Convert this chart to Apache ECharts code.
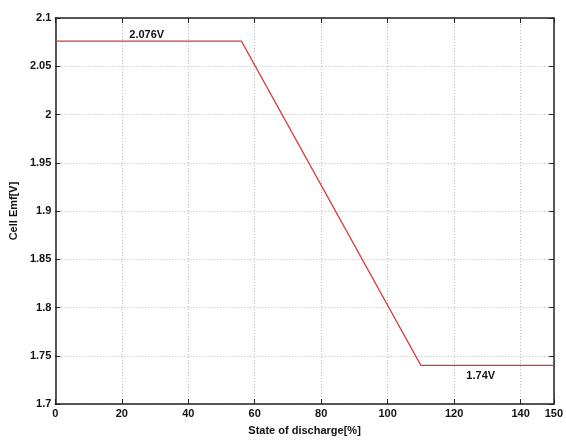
<!DOCTYPE html>
<html>
<head>
<meta charset="utf-8">
<script src="https://cdn.jsdelivr.net/npm/echarts@6/dist/echarts.min.js"></script>
<style>
  html, body { margin: 0; padding: 0; background: #fff; }
  #main { width: 566px; height: 441px; }
</style>
</head>
<body>
<div id="main"></div>
<script>
// 放电深度与电动势
const socPoints = [0, 56, 110, 150];
const emfValues = [2.076, 2.076, 1.74, 1.74];
// 标注
const noteText = ['2.076V', '1.74V'];
const noteAt = [[27.5, 2.076], [128, 1.74]];

var myChart = echarts.init(document.getElementById('main'));

var font = { fontFamily: 'Liberation Sans', fontWeight: 'bold', fontSize: 11, color: '#111' };
var tickIn = { inside: true, length: 5, lineStyle: { color: '#222' } };
var dotted = { show: true, lineStyle: { color: '#bbb', type: [1, 2], width: 1 } };

myChart.setOption({
    animation: false,
    grid: { left: 55, right: 7, top: 18, bottom: 29, show: false },
    xAxis: [{
        type: 'value', min: 0, max: 150, interval: 20,
        name: 'State of discharge[%]', nameLocation: 'middle', nameGap: 21,
        nameTextStyle: font,
        axisLine: { onZero: false, lineStyle: { color: '#222', width: 1.5 } },
        axisTick: tickIn,
        axisLabel: Object.assign({ margin: 4 }, font),
        splitLine: dotted
    }, {
        type: 'value', min: 0, max: 150, interval: 20, position: 'top',
        axisLine: { onZero: false, lineStyle: { color: '#222', width: 1.5 } },
        axisTick: tickIn, axisLabel: { show: false }, splitLine: { show: false }
    }],
    yAxis: [{
        type: 'value', min: 1.7, max: 2.1, interval: 0.05,
        name: 'Cell Emf[V]', nameLocation: 'middle', nameGap: 36,
        nameTextStyle: font,
        axisLine: { onZero: false, lineStyle: { color: '#222', width: 1.5 } },
        axisTick: tickIn,
        axisLabel: Object.assign({ margin: 4 }, font),
        splitLine: dotted
    }, {
        type: 'value', min: 1.7, max: 2.1, interval: 0.05, position: 'right',
        axisLine: { show: true, onZero: false, lineStyle: { color: '#222', width: 1.5 } },
        axisTick: tickIn, axisLabel: { show: false }, splitLine: { show: false }
    }],
    series: [{
        type: 'line',
        data: socPoints.map(function (x, i) { return [x, emfValues[i]]; }),
        showSymbol: false,
        lineStyle: { color: '#d9383a', width: 1.2 },
        markPoint: {
            symbolSize: 0,
            label: Object.assign({ show: true }, font),
            data: noteAt.map(function (c, i) {
                return { coord: c, value: noteText[i], label: { formatter: noteText[i], position: i === 0 ? 'top' : 'bottom', distance: i === 0 ? 1 : 5 } };
            })
        }
    }]
});
</script>
</body>
</html>
